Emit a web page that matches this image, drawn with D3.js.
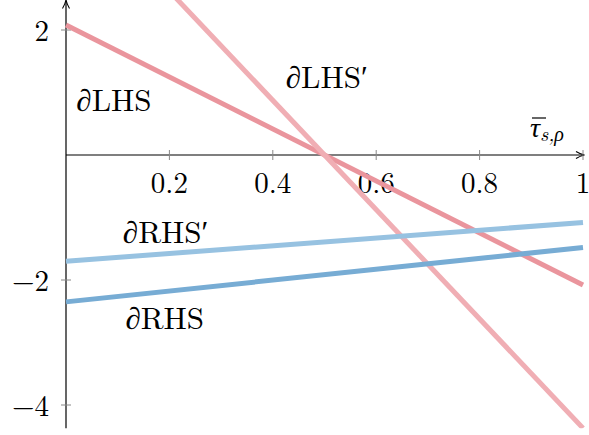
<!DOCTYPE html>
<html>
<head>
<meta charset="utf-8">
<script src="https://cdn.jsdelivr.net/npm/d3@7"></script>
<style>
  body { margin: 0; background: #fff; }
  text { font-family: "Latin Modern Roman", "CMU Serif", "Liberation Serif", "DejaVu Serif", serif; fill: #000; }
</style>
</head>
<body>
<div id="chart"></div>
<script>
// ---- Data
const xs = [0, 1];
const lhs = [2.08, -2.08];
const lhsPrime = [4.37, -4.37];
const rhs = [-2.35, -1.48];
const rhsPrime = [-1.70, -1.08];

const xTicks = [0.2, 0.4, 0.6, 0.8, 1];
const xTickLabels = ['0.2', '0.4', '0.6', '0.8', '1'];
const yTicks = [2, -2, -4];
const yTickLabels = ['2', '\u22122', '\u22124'];

const series = [
    { name: 'lhs', values: lhs, color: '#ea959d' },
    { name: 'lhsPrime', values: lhsPrime, color: '#f0aeb4' },
    { name: 'rhs', values: rhs, color: '#77acd4' },
    { name: 'rhsPrime', values: rhsPrime, color: '#97c2e1' }
];

const labels = [
    { text: '\u2202LHS', x: 0.02, y: 0.70 },
    { text: '\u2202LHS\u2032', x: 0.425, y: 1.07 },
    { text: '\u2202RHS\u2032', x: 0.11, y: -1.40 },
    { text: '\u2202RHS', x: 0.115, y: -2.78 }
];

const width = 589, height = 435;
const yMin = -4.37, yMax = 2.48;

const svg = d3.select('#chart').append('svg')
    .attr('width', width).attr('height', height);

// ---- Scales
const x = d3.scaleLinear().domain([0, 1]).range([66, 583]);
const y = d3.scaleLinear().domain([2, -4]).range([30, 405]);

svg.append('defs').append('clipPath').attr('id', 'plotClip')
    .append('rect')
    .attr('x', x(0) - 5).attr('y', y(yMax))
    .attr('width', x(1) - x(0) + 10).attr('height', y(yMin) - y(yMax));

svg.select('defs').append('marker')
    .attr('id', 'arrow').attr('viewBox', '0 0 10 10')
    .attr('refX', 9).attr('refY', 5)
    .attr('markerWidth', 10).attr('markerHeight', 10)
    .attr('markerUnits', 'userSpaceOnUse')
    .attr('orient', 'auto')
    .append('path')
    .attr('d', 'M1,1.5 Q5,4 9.5,5 Q5,6 1,8.5')
    .attr('fill', 'none').attr('stroke', '#000').attr('stroke-width', 1.1);

// ---- Axes
const axes = svg.append('g');
axes.append('line')
    .attr('x1', x(0)).attr('x2', x(1) + 1)
    .attr('y1', y(0)).attr('y2', y(0))
    .attr('stroke', '#000').attr('stroke-width', 1.2)
    .attr('marker-end', 'url(#arrow)');
axes.append('line')
    .attr('x1', x(0)).attr('x2', x(0))
    .attr('y1', y(yMin)).attr('y2', 0.5)
    .attr('stroke', '#000').attr('stroke-width', 1.2)
    .attr('marker-end', 'url(#arrow)');

axes.selectAll('.xtick').data(xTicks).join('line')
    .attr('class', 'xtick')
    .attr('x1', d => x(d)).attr('x2', d => x(d))
    .attr('y1', y(0) - 5).attr('y2', y(0) + 5)
    .attr('stroke', '#888').attr('stroke-width', 1);
axes.selectAll('.ytick').data(yTicks).join('line')
    .attr('class', 'ytick')
    .attr('x1', x(0) - 5).attr('x2', x(0) + 5)
    .attr('y1', d => y(d)).attr('y2', d => y(d))
    .attr('stroke', '#888').attr('stroke-width', 1);

axes.selectAll('.xlabel').data(xTicks).join('text')
    .attr('class', 'xlabel')
    .attr('x', d => x(d)).attr('y', y(0) + 38)
    .attr('text-anchor', 'middle')
    .style('font-size', '29px')
    .text((d, i) => xTickLabels[i]);
axes.selectAll('.ylabel').data(yTicks).join('text')
    .attr('class', 'ylabel')
    .attr('x', x(0) - 17).attr('y', d => y(d) + 11)
    .attr('text-anchor', 'end')
    .style('font-size', '29px')
    .text((d, i) => yTickLabels[i]);

// axis title: tau bar with subscript
const tau = axes.append('text')
    .attr('x', 530).attr('y', 137)
    .style('font-size', '28px');
tau.append('tspan').style('font-style', 'italic').text('\u03C4');
tau.append('tspan').attr('dy', 4).style('font-size', '20px').style('font-style', 'italic').text('s,\u03C1');
axes.append('line')
    .attr('x1', 532).attr('x2', 546)
    .attr('y1', 118).attr('y2', 118)
    .attr('stroke', '#000').attr('stroke-width', 1.2);

// ---- Lines
const line = d3.line().x((d, i) => x(xs[i])).y(d => y(d));
svg.append('g').attr('clip-path', 'url(#plotClip)')
    .selectAll('path').data(series).join('path')
    .attr('d', d => line(d.values))
    .attr('fill', 'none')
    .attr('stroke', d => d.color)
    .attr('stroke-width', 5);

// ---- Labels
svg.selectAll('.lbl').data(labels).join('text')
    .attr('class', 'lbl')
    .attr('x', d => x(d.x)).attr('y', d => y(d.y))
    .style('font-size', '31px')
    .text(d => d.text);
</script>
</body>
</html>
